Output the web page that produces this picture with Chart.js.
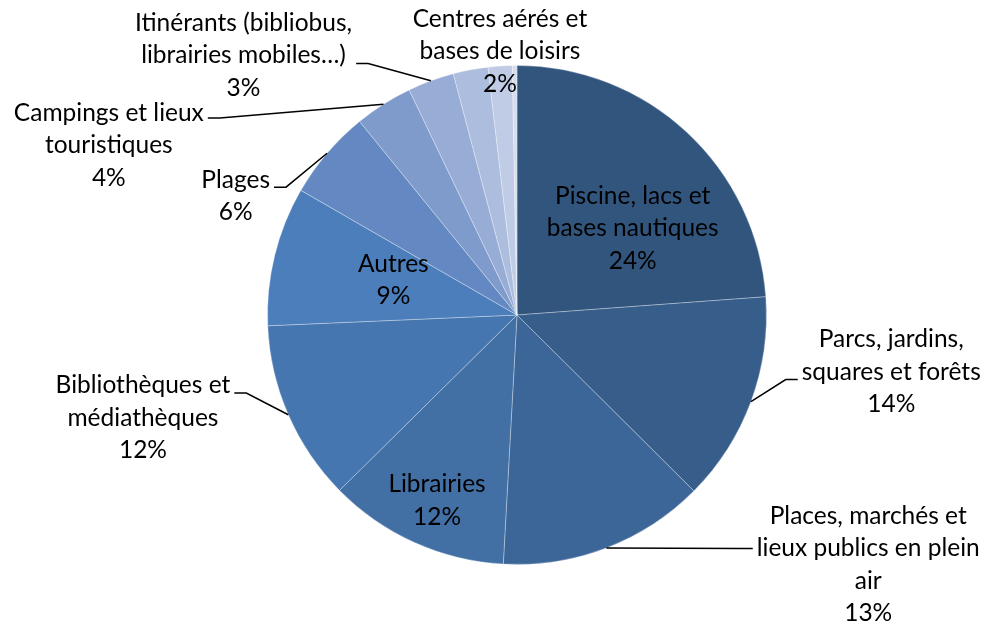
<!DOCTYPE html>
<html>
<head>
<meta charset="utf-8">
<script src="https://cdn.jsdelivr.net/npm/chart.js@4/dist/chart.umd.min.js"></script>
<style>
  html, body { margin: 0; padding: 0; background: #fff; }
  #wrap { width: 987px; height: 625px; }
</style>
</head>
<body>
<div id="wrap"><canvas id="pie-chart"></canvas></div>
<script>
const categories = [
  ['Piscine, lacs et', 'bases nautiques'],
  ['Parcs, jardins,', 'squares et forêts'],
  ['Places, marchés et', 'lieux publics en plein', 'air'],
  ['Librairies'],
  ['Bibliothèques et', 'médiathèques'],
  ['Autres'],
  ['Plages'],
  ['Campings et lieux', 'touristiques'],
  ['Itinérants (bibliobus,', 'librairies mobiles…)'],
  ['Centres aérés et', 'bases de loisirs'],
  [],
  [],
]
const values = [23.8, 13.6, 13.4, 11.7, 11.7, 9.0, 5.8, 3.75, 3.0, 2.25, 1.55, 0.3]

const colors = ['#32557e', '#375d8b', '#3d6698', '#4270a5', '#4676b0', '#4b7eba',
  '#6489c2', '#7f9bcb', '#98add6', '#acbddd', '#c0cce5', '#d5ddee']

// where each label block sits: [angle from top in degrees, distance in radii]
const labelPlace = [
  [53.1, 0.58], [98.6, 1.517], [125.4, 1.727], [203.3, 0.81], [254.6, 1.555], [285.8, 0.515],
  [292.9, 1.224], [292.6, 1.772], [313.5, 1.511], [356.3, 1.058], null, null,
]
// leader line attach offset from block centre (null = no leader)
const leaderDy = [null, 8, -16, null, -25, null, -9, -27, 8, null, null, null]
const lineH = 32.5

const pieLabels = {
  id: 'pieLabels',
  afterDatasetsDraw(chart) {
    const ctx = chart.ctx
    const meta = chart.getDatasetMeta(0)
    const data = chart.data.datasets[0].data
    const total = data.reduce((a, b) => a + b, 0)
    ctx.save()
    ctx.font = '24.5px Lato'
    ctx.fillStyle = '#000'
    ctx.strokeStyle = '#000'
    ctx.lineWidth = 1.5
    ctx.textAlign = 'center'
    ctx.textBaseline = 'middle'
    meta.data.forEach((arc, i) => {
      const lines = chart.data.labels[i]
      if (!lines.length || !labelPlace[i]) return
      const p = arc.getProps(['x', 'y', 'startAngle', 'endAngle', 'outerRadius'], true)
      const text = lines.concat(Math.round(data[i] / total * 100) + '%')
      const a = labelPlace[i][0] * Math.PI / 180 - Math.PI / 2
      const cx = p.x + Math.cos(a) * labelPlace[i][1] * p.outerRadius
      const cy = p.y + Math.sin(a) * labelPlace[i][1] * p.outerRadius
      const top = cy - (text.length - 1) * lineH / 2
      text.forEach((t, k) => ctx.fillText(t, cx, top + k * lineH))
      if (leaderDy[i] !== null) {
        const w = Math.max(...text.map(t => ctx.measureText(t).width))
        const mid = (p.startAngle + p.endAngle) / 2
        const ex = p.x + Math.cos(mid) * p.outerRadius
        const ey = p.y + Math.sin(mid) * p.outerRadius
        const side = ex > cx ? 1 : -1
        const ax = cx + side * (w / 2 + 4)
        const ay = cy + leaderDy[i]
        ctx.beginPath()
        ctx.moveTo(ax, ay)
        ctx.lineTo(ax + side * 12, ay)
        ctx.lineTo(ex, ey)
        ctx.stroke()
      }
    })
    ctx.restore()
  },
}

const data = {
  labels: categories,
  datasets: [
    {
      data: values,
      backgroundColor: colors,
      borderColor: 'rgba(255,255,255,0.3)',
      borderWidth: 1,
    },
  ],
}

const config = {
  type: 'pie',
  data: data,
  options: {
    responsive: true,
    maintainAspectRatio: false,
    animation: false,
    layout: { padding: { left: 267, right: 220, top: 65, bottom: 60 } },
    plugins: {
      legend: { display: false },
      tooltip: { enabled: false },
    },
  },
  plugins: [pieLabels],
}

const pie_chart = document.getElementById('pie-chart')
const chart = new Chart(pie_chart, config)
</script>
</body>
</html>
